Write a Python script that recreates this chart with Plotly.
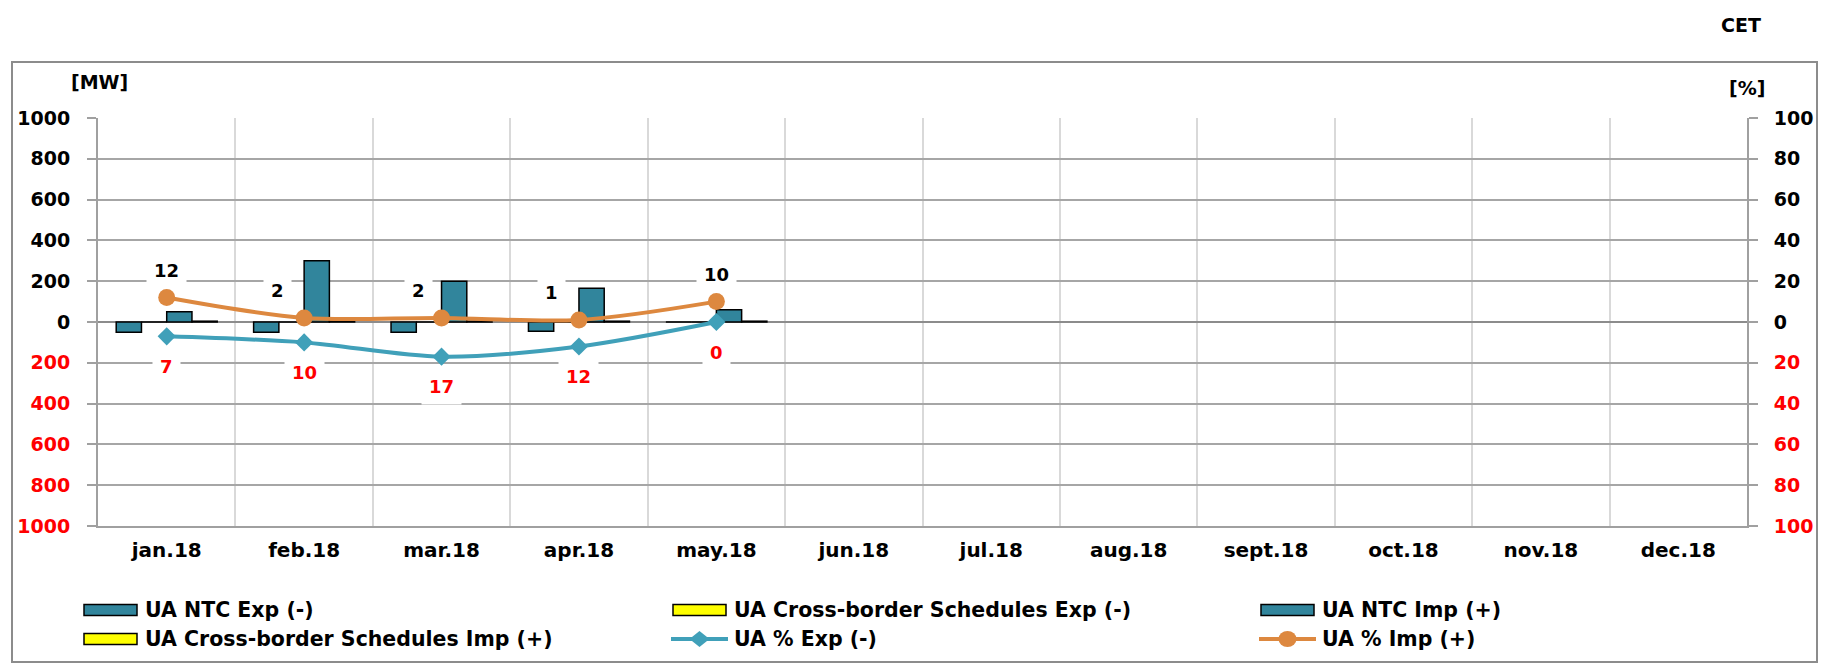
import plotly.graph_objects as go

# ---- data -------------------------------------------------------------
months = ["jan.18", "feb.18", "mar.18", "apr.18", "may.18", "jun.18",
          "jul.18", "aug.18", "sept.18", "oct.18", "nov.18", "dec.18"]
reported = months[:5]

ntc_exp = [50, 50, 50, 45, 0]          # MW, drawn below zero
sched_exp = [0, 0, 0, 0, 0]            # MW, drawn below zero
ntc_imp = [50, 300, 200, 165, 60]      # MW
sched_imp = [4, 4, 4, 4, 4]            # MW

pct_exp = [7, 10, 17, 12, 0]           # %, drawn below zero
pct_imp = [12, 2, 2, 1, 10]            # %

mw_ticks = [1000, 800, 600, 400, 200, 0, -200, -400, -600, -800, -1000]
pct_ticks = [100, 80, 60, 40, 20, 0, -20, -40, -60, -80, -100]

# ---- styling ----------------------------------------------------------
FONT = "DejaVu Sans"
TEAL_BAR = "#31859c"
YELLOW = "#ffff00"
TEAL_LINE = "#40a0b9"
ORANGE = "#dd883f"
RED = "#ff0000"
GRID = "#a6a6a6"
VGRID = "#d9d9d9"
AXIS = "#a0a0a0"

W, H = 1826, 664
PL, PR, PT, PB = 98, 1747, 118, 526   # plot area in pixels


def px_x(px):
    return (px - PL) / (PR - PL)


def px_y(py):
    return (PB - py) / (PB - PT)


def tick_text(vals):
    out = []
    for v in vals:
        if v < 0:
            out.append(f'<span style="color:{RED}">{abs(v)}</span>')
        else:
            out.append(str(v))
    return out


fig = go.Figure()

bar_line = dict(color="#000000", width=1.5)
fig.add_trace(go.Bar(x=reported, y=[-v for v in ntc_exp], name="UA NTC Exp (-)",
                     marker=dict(color=TEAL_BAR, line=bar_line), yaxis="y"))
fig.add_trace(go.Bar(x=reported, y=[-v for v in sched_exp],
                     name="UA Cross-border Schedules Exp (-)",
                     marker=dict(color=YELLOW, line=bar_line), yaxis="y"))
fig.add_trace(go.Bar(x=reported, y=ntc_imp, name="UA NTC Imp (+)",
                     marker=dict(color=TEAL_BAR, line=bar_line), yaxis="y"))
fig.add_trace(go.Bar(x=reported, y=sched_imp,
                     name="UA Cross-border Schedules Imp (+)",
                     marker=dict(color=YELLOW, line=bar_line), yaxis="y"))

fig.add_trace(go.Scatter(x=reported, y=[-v for v in pct_exp], name="UA % Exp (-)",
                         mode="lines+markers", yaxis="y2",
                         line=dict(color=TEAL_LINE, width=4, shape="spline", smoothing=0.9),
                         marker=dict(symbol="diamond", size=14, color=TEAL_LINE)))
fig.add_trace(go.Scatter(x=reported, y=pct_imp, name="UA % Imp (+)",
                         mode="lines+markers", yaxis="y2",
                         line=dict(color=ORANGE, width=4, shape="spline", smoothing=0.9),
                         marker=dict(symbol="circle", size=17, color=ORANGE)))

annotations = []
label_font = dict(family=FONT, size=18, weight="bold")

# value labels for import percentages (above the points)
imp_xshift = [0, -27, -23, -27, 0]
for m, v, dx in zip(reported, pct_imp, imp_xshift):
    annotations.append(dict(x=m, y=v, xref="x", yref="y2", text=str(v),
                            showarrow=False, yshift=27, xshift=dx,
                            xanchor="center", yanchor="middle",
                            font=dict(color="#000000", **label_font),
                            bgcolor="#ffffff", borderpad=7))
# value labels for export percentages (below the points)
for m, v in zip(reported, pct_exp):
    annotations.append(dict(x=m, y=-v, xref="x", yref="y2", text=str(v),
                            showarrow=False, yshift=-30,
                            xanchor="center", yanchor="middle",
                            font=dict(color=RED, **label_font),
                            bgcolor="#ffffff", borderpad=7))

# unit captions and time zone
caption_font = dict(family=FONT, size=19, weight="bold", color="#000")
for text, cx, cy in [("[MW]", 99, 82), ("[%]", 1747, 88), ("CET", 1741, 25)]:
    annotations.append(dict(x=px_x(cx), y=px_y(cy), xref="paper", yref="paper",
                            text=text, showarrow=False,
                            xanchor="center", yanchor="middle", font=caption_font))

shapes = []
# outer frame
shapes.append(dict(type="rect", xref="paper", yref="paper",
                   x0=px_x(12), x1=px_x(1817), y0=px_y(662), y1=px_y(62),
                   line=dict(color="#8c8c8c", width=2), layer="below"))

# legend drawn as swatches + captions
legend_font = dict(family=FONT, size=20.5, weight="bold", color="#000")
col_x = [84, 673, 1261]
row_y = [610, 639]
legend_items = [
    ("UA NTC Exp (-)", "bar", TEAL_BAR),
    ("UA Cross-border Schedules Exp (-)", "bar", YELLOW),
    ("UA NTC Imp (+)", "bar", TEAL_BAR),
    ("UA Cross-border Schedules Imp (+)", "bar", YELLOW),
    ("UA % Exp (-)", "diamond", TEAL_LINE),
    ("UA % Imp (+)", "circle", ORANGE),
]
for i, (label, kind, color) in enumerate(legend_items):
    x0 = col_x[i % 3]
    y0 = row_y[i // 3]
    if kind == "bar":
        shapes.append(dict(type="rect", xref="paper", yref="paper",
                           x0=px_x(x0), x1=px_x(x0 + 53),
                           y0=px_y(y0 + 5.5), y1=px_y(y0 - 5.5),
                           fillcolor=color, line=dict(color="#000", width=1.5)))
    else:
        shapes.append(dict(type="line", xref="paper", yref="paper",
                           x0=px_x(x0 - 2), x1=px_x(x0 + 55),
                           y0=px_y(y0), y1=px_y(y0),
                           line=dict(color=color, width=4)))
        cx, cy = px_x(x0 + 26.5), px_y(y0)
        if kind == "circle":
            shapes.append(dict(type="circle", xref="paper", yref="paper",
                               xsizemode="pixel", ysizemode="pixel",
                               xanchor=cx, yanchor=cy, x0=-9, x1=9, y0=-8, y1=8,
                               fillcolor=color, line=dict(color=color, width=0)))
        else:
            shapes.append(dict(type="path", xref="paper", yref="paper",
                               xsizemode="pixel", ysizemode="pixel",
                               xanchor=cx, yanchor=cy,
                               path="M-10,0 L0,-8 L10,0 L0,8 Z",
                               fillcolor=color, line=dict(color=color, width=0)))
    annotations.append(dict(x=px_x(x0 + 59), y=px_y(y0), xref="paper", yref="paper",
                            text=label, showarrow=False, xanchor="left", yanchor="middle",
                            font=legend_font))

tick_font = dict(family=FONT, size=19, weight="bold", color="#000")

fig.update_layout(
    width=W, height=H, autosize=False,
    margin=dict(l=PL, r=W - PR, t=PT, b=H - PB, pad=0),
    paper_bgcolor="#ffffff", plot_bgcolor="#ffffff",
    showlegend=False,
    barmode="group", bargap=0.265, bargroupgap=0,
    xaxis=dict(type="category", categoryorder="array", categoryarray=months,
               range=[-0.5, 11.5], tickson="boundaries", ticks="",
               showgrid=True, gridcolor=VGRID, gridwidth=2,
               showline=True, linecolor=AXIS, linewidth=2,
               tickfont=dict(family=FONT, size=20, weight="bold", color="#000"),
               ticklabelstandoff=5, fixedrange=True),
    yaxis=dict(range=[-1000, 1000], tickvals=mw_ticks, ticktext=tick_text(mw_ticks),
               showgrid=True, gridcolor=GRID, gridwidth=1.5,
               zeroline=True, zerolinecolor="#8c8c8c", zerolinewidth=2,
               showline=True, linecolor=AXIS, linewidth=2,
               ticks="outside", ticklen=9, tickcolor=AXIS, tickwidth=1.5,
               tickfont=tick_font, ticklabelstandoff=13),
    yaxis2=dict(range=[-100, 100], tickvals=pct_ticks, ticktext=tick_text(pct_ticks),
                overlaying="y", side="right", showgrid=False, zeroline=False,
                showline=True, linecolor=AXIS, linewidth=2,
                ticks="outside", ticklen=9, tickcolor=AXIS, tickwidth=1.5,
                tickfont=tick_font, ticklabelstandoff=12),
    shapes=shapes,
    annotations=annotations,
)

fig.write_html("out.html")
